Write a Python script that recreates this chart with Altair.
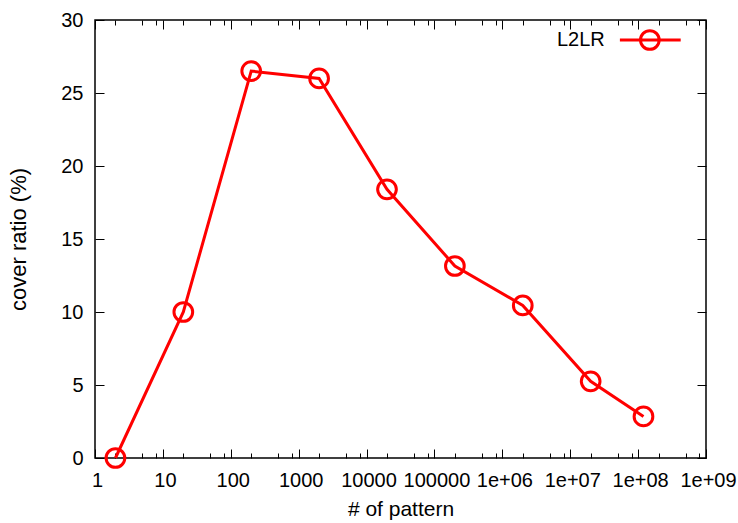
import altair as alt
import pandas as pd

# data
patterns = [2, 20, 200, 2000, 20000, 200000, 2000000, 20000000, 120000000]
cover = [0.0, 10.0, 26.5, 26.0, 18.4, 13.15, 10.45, 5.25, 2.85]
series = ["L2LR"] * len(patterns)

major_x = [10 ** k for k in range(10)]
minor_x = [m * 10 ** k for k in range(9) for m in (2, 5, 8)]
major_y = [0, 5, 10, 15, 20, 25, 30]

df = pd.DataFrame({"pattern": patterns, "cover": cover, "series": series})

FONT = "Liberation Sans"
RED = "#ff0000"

xscale = alt.Scale(type="log", domain=[1, 1e9], nice=False)
yscale = alt.Scale(domain=[0, 30], nice=False, zero=False)

label_expr = "datum.value < 1e6 ? format(datum.value, 'd') : '1e+0' + round(log(datum.value) / LN10)"

common_axis = dict(grid=False, domain=False, tickColor="black", tickWidth=1,
                   labelFont=FONT, titleFont=FONT, labelColor="black", titleColor="black",
                   labelOverlap=False, labelFlush=False)

# legend glyph: line with a circle, shifted to the right of the label
legend_path = "M7.9,0L14.4,0M10.1,0A1,1 0 1,0 12.1,0A1,1 0 1,0 10.1,0"

base = alt.Chart(df)

line = base.mark_line(color=RED, strokeWidth=3).encode(
    x=alt.X("pattern:Q", scale=xscale,
            axis=alt.Axis(orient="bottom", values=major_x, offset=-9, tickSize=9,
                          labelExpr=label_expr, labelFontSize=20, labelPadding=12,
                          labelOffset=2,
                          title="# of pattern", titleFontSize=21, titleFontWeight="normal",
                          titlePadding=8, **common_axis)),
    y=alt.Y("cover:Q", scale=yscale,
            axis=alt.Axis(orient="left", values=major_y, offset=-9, tickSize=9,
                          labelFontSize=20, labelPadding=12,
                          title="cover ratio (%)", titleFontSize=22, titleFontWeight="normal",
                          titlePadding=30, **common_axis)),
)

points = base.mark_point(shape="circle", filled=False, size=350, strokeWidth=3, opacity=1).encode(
    x=alt.X("pattern:Q", scale=xscale,
            axis=alt.Axis(orient="top", values=major_x, offset=-9, tickSize=9,
                          labels=False, title=None, **common_axis)),
    y=alt.Y("cover:Q", scale=yscale,
            axis=alt.Axis(orient="right", values=major_y, offset=-9, tickSize=9,
                          labels=False, title=None, **common_axis)),
    color=alt.Color("series:N", scale=alt.Scale(domain=["L2LR"], range=[RED]),
                    legend=alt.Legend(title=None, orient="none", legendX=440, legendY=9,
                                      padding=0, offset=0,
                                      symbolType=legend_path,
                                      symbolSize=350, symbolStrokeWidth=3,
                                      labelFont=FONT, labelFontSize=20, labelColor="black",
                                      labelOffset=0)),
)

minor_bottom = base.mark_point(opacity=0).encode(
    x=alt.X("pattern:Q", scale=xscale,
            axis=alt.Axis(orient="bottom", values=minor_x, offset=-5, tickSize=5,
                          labels=False, title=None, **common_axis)),
    y=alt.Y("cover:Q", scale=yscale, axis=None),
)

minor_top = base.mark_point(opacity=0).encode(
    x=alt.X("pattern:Q", scale=xscale,
            axis=alt.Axis(orient="top", values=minor_x, offset=-5, tickSize=5,
                          labels=False, title=None, **common_axis)),
    y=alt.Y("cover:Q", scale=yscale, axis=None),
)

chart = alt.layer(line, points, minor_bottom, minor_top).resolve_axis(
    x="independent", y="independent"
).properties(
    width=611, height=438,
    autosize=alt.AutoSizeParams(type="none"),
    padding={"left": 95, "top": 20, "right": 32, "bottom": 65},
    background="white",
).configure_view(stroke="black", strokeWidth=1.5)

chart.save("out.html", embed_options={"renderer": "svg", "actions": False})
